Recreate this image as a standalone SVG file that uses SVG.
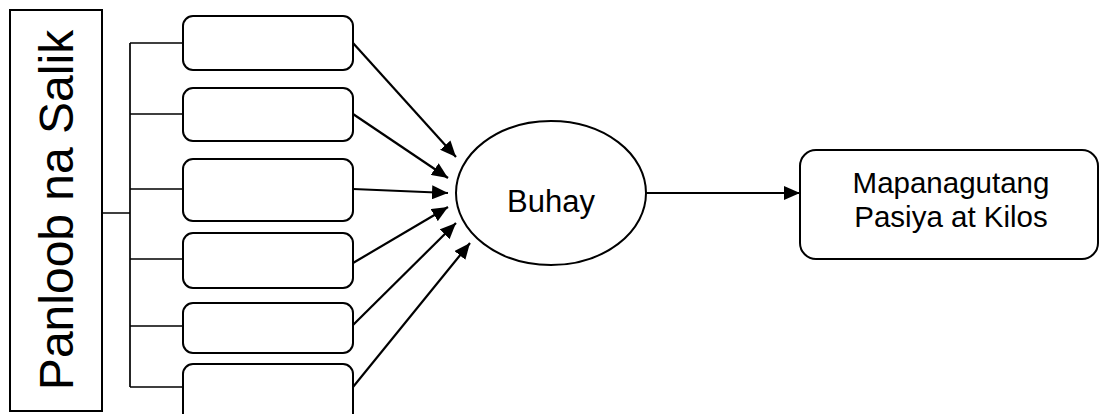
<svg xmlns="http://www.w3.org/2000/svg" width="1101" height="414" viewBox="0 0 1101 414">
  <defs>
    <marker id="arrow" markerWidth="16" markerHeight="14" refX="16" refY="7" orient="auto" markerUnits="userSpaceOnUse">
      <path d="M0,0 L16,7 L0,14 Z" fill="#000"/>
    </marker>
    <style>
      .box { fill: #fff; stroke: #000; stroke-width: 2; }
      .wire { fill: none; stroke: #000; stroke-width: 1.7; }
      .arrow { fill: none; stroke: #000; stroke-width: 2.2; marker-end: url(#arrow); }
      .label { font-family: "Liberation Sans", Arial, sans-serif; fill: #000; text-anchor: middle; }
    </style>
  </defs>
  <rect width="1101" height="414" fill="#fff"/>

  <!-- bracket tying the factor boxes together, plus the flow arrows -->
  <g id="connectors">
    <path class="wire" d="M102,213 H130 M130,43 V387 M130,43 H183 M130,114 H183 M130,189 H183 M130,259 H183 M130,326 H183 M130,387 H183"/>
    <line class="arrow" x1="353" y1="43" x2="456" y2="157"/>
    <line class="arrow" x1="353" y1="114" x2="448" y2="178"/>
    <line class="arrow" x1="353" y1="189" x2="448" y2="193"/>
    <line class="arrow" x1="353" y1="263" x2="448" y2="207"/>
    <line class="arrow" x1="353" y1="325" x2="456" y2="223"/>
    <line class="arrow" x1="353" y1="387" x2="470" y2="243"/>
    <line class="arrow" x1="646" y1="193" x2="800" y2="193"/>
  </g>

  <g id="panloob">
    <rect class="box" x="10" y="10" width="92" height="401" stroke-width="1.6"/>
    <text class="label" font-size="48" transform="translate(73,210) rotate(-90)">Panloob na Salik</text>
  </g>

  <g id="factor1"><rect class="box" x="183" y="16" width="170" height="54" rx="10"/></g>
  <g id="factor2"><rect class="box" x="183" y="88" width="170" height="53" rx="10"/></g>
  <g id="factor3"><rect class="box" x="183" y="159" width="170" height="62" rx="10"/></g>
  <g id="factor4"><rect class="box" x="183" y="233" width="170" height="55" rx="10"/></g>
  <g id="factor5"><rect class="box" x="183" y="303" width="170" height="50" rx="10"/></g>
  <g id="factor6"><rect class="box" x="183" y="364" width="170" height="70" rx="10"/></g>

  <g id="buhay">
    <ellipse class="box" cx="551" cy="193" rx="95" ry="72"/>
    <text class="label" x="551" y="212" font-size="31">Buhay</text>
  </g>

  <g id="pasiya">
    <rect class="box" x="800" y="150" width="298" height="109" rx="16"/>
    <text class="label" x="951" y="193" font-size="29.5">Mapanagutang</text>
    <text class="label" x="951" y="227" font-size="29.5">Pasiya at Kilos</text>
  </g>
</svg>
